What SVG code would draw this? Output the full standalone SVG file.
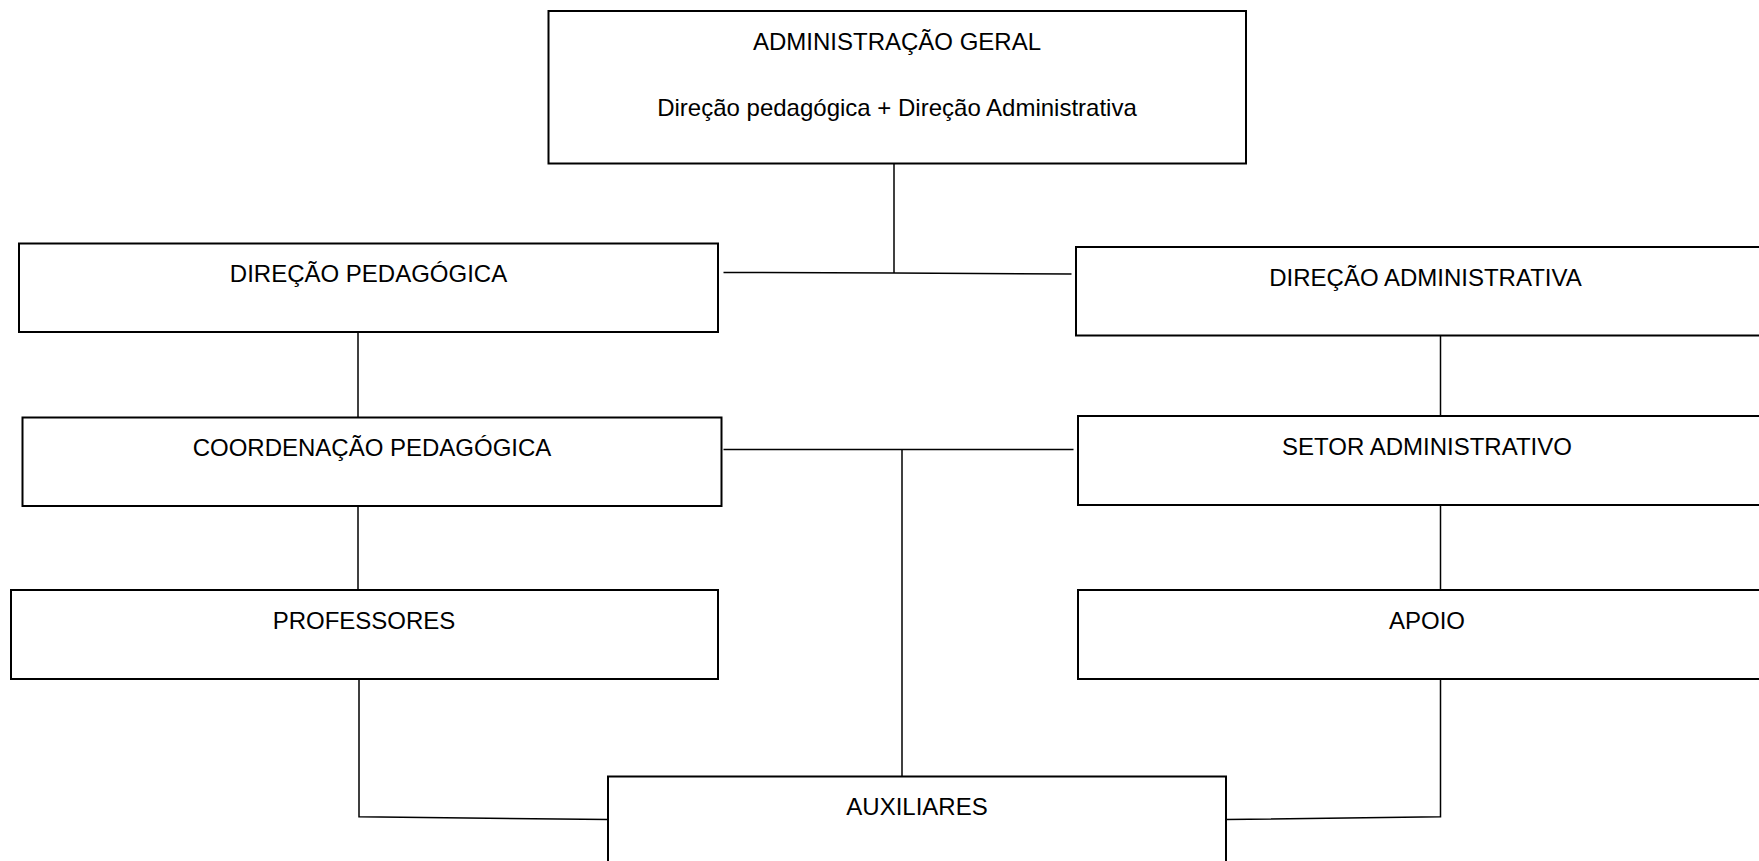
<svg xmlns="http://www.w3.org/2000/svg" width="1759" height="861" viewBox="0 0 1759 861">
<style>
.box{fill:#ffffff;stroke:#000000;stroke-width:2}
.lbl{font-family:"Liberation Sans",Arial,sans-serif;font-size:24px;fill:#000000;text-anchor:middle}
.con{fill:none;stroke:#000000;stroke-width:1.5}
</style>
<rect width="1759" height="861" fill="#ffffff"/>
<g id="connectors">
<line class="con" x1="894" y1="163.5" x2="894" y2="273"/>
<polyline class="con" points="723.5,272.5 894,273 1071.5,274"/>
<line class="con" x1="358" y1="332" x2="358" y2="417.5"/>
<line class="con" x1="1440.5" y1="335.5" x2="1440.5" y2="416"/>
<line class="con" x1="723.5" y1="449.5" x2="1073.5" y2="449.5"/>
<line class="con" x1="902" y1="449.5" x2="902" y2="776.5"/>
<line class="con" x1="358" y1="506" x2="358" y2="590"/>
<line class="con" x1="1440.5" y1="505" x2="1440.5" y2="590"/>
<polyline class="con" points="359,679 359,816.7 608,819.5"/>
<polyline class="con" points="1440.5,679 1440.5,816.7 1226,819.5"/>
</g>
<g id="admin-geral">
<rect class="box" x="548.5" y="11" width="697.5" height="152.5"/>
<text class="lbl" x="897" y="49.5">ADMINISTRAÇÃO GERAL</text>
<text class="lbl" x="897" y="116">Direção pedagógica + Direção Administrativa</text>
</g>
<g id="direcao-pedagogica">
<rect class="box" x="19" y="243.5" width="699" height="88.5"/>
<text class="lbl" x="368.5" y="282">DIREÇÃO PEDAGÓGICA</text>
</g>
<g id="direcao-administrativa">
<rect class="box" x="1076" y="247" width="699" height="88.5"/>
<text class="lbl" x="1425.5" y="285.5">DIREÇÃO ADMINISTRATIVA</text>
</g>
<g id="coordenacao-pedagogica">
<rect class="box" x="22.5" y="417.5" width="699" height="88.5"/>
<text class="lbl" x="372" y="456">COORDENAÇÃO PEDAGÓGICA</text>
</g>
<g id="setor-administrativo">
<rect class="box" x="1078" y="416" width="699" height="89"/>
<text class="lbl" x="1427" y="454.5">SETOR ADMINISTRATIVO</text>
</g>
<g id="professores">
<rect class="box" x="11" y="590" width="707" height="89"/>
<text class="lbl" x="364" y="629">PROFESSORES</text>
</g>
<g id="apoio">
<rect class="box" x="1078" y="590" width="699" height="89"/>
<text class="lbl" x="1427" y="629">APOIO</text>
</g>
<g id="auxiliares">
<rect class="box" x="608" y="776.5" width="618" height="100"/>
<text class="lbl" x="917" y="815">AUXILIARES</text>
</g>
</svg>
